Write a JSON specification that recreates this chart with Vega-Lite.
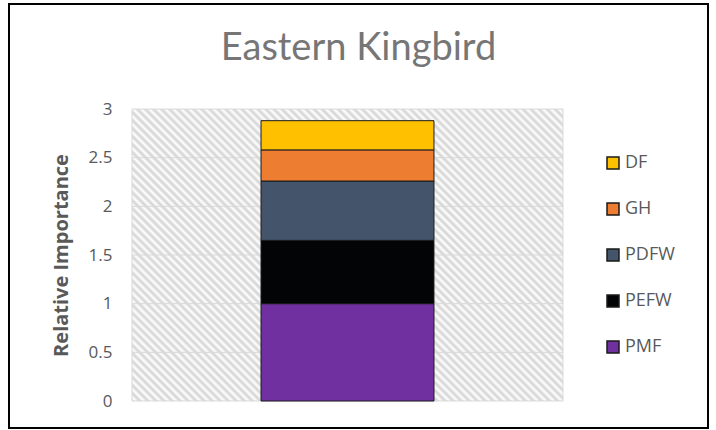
{
  "$schema": "https://vega.github.io/schema/vega-lite/v6.json",
  "autosize": {"type": "none"},
  "width": 699,
  "height": 424,
  "padding": {"left": 9, "top": 4, "right": 8, "bottom": 2},
  "background": "#ffffff",
  "config": {
    "view": {"stroke": "#000000", "strokeWidth": 2, "fill": "#ffffff"},
    "font": "Open Sans",
    "axisY": {
      "offset": -123,
      "domain": false,
      "ticks": false,
      "grid": false,
      "labelFont": "Open Sans",
      "labelFontSize": 17,
      "labelColor": "#595959",
      "labelPadding": 20,
      "titleFont": "Open Sans",
      "titleFontSize": 20,
      "titleFontWeight": "bold",
      "titleColor": "#595959",
      "titlePadding": 17
    }
  },
  "title": {
    "text": "Eastern Kingbird",
    "font": "Lato",
    "fontSize": 38,
    "fontWeight": "normal",
    "color": "#767676",
    "anchor": "middle",
    "frame": "group",
    "baseline": "alphabetic",
    "offset": -94
  },
  "layer": [
    {
      "data": {"values": [{}]},
      "mark": {
        "type": "rect",
        "stroke": "#d9d9d9",
        "strokeWidth": 1,
        "fill": {
          "gradient": "linear",
          "x1": 0, "y1": 1, "x2": 1.1497, "y2": 0.2211,
          "stops": [
            {"offset": 0, "color": "#d3d3d3"},{"offset": 0.0056, "color": "#ffffff"},{"offset": 0.0111, "color": "#d3d3d3"},{"offset": 0.0167, "color": "#ffffff"},{"offset": 0.0222, "color": "#d3d3d3"},{"offset": 0.0278, "color": "#ffffff"},{"offset": 0.0333, "color": "#d3d3d3"},{"offset": 0.0389, "color": "#ffffff"},{"offset": 0.0444, "color": "#d3d3d3"},{"offset": 0.05, "color": "#ffffff"},{"offset": 0.0556, "color": "#d3d3d3"},{"offset": 0.0611, "color": "#ffffff"},{"offset": 0.0667, "color": "#d3d3d3"},{"offset": 0.0722, "color": "#ffffff"},{"offset": 0.0778, "color": "#d3d3d3"},{"offset": 0.0833, "color": "#ffffff"},{"offset": 0.0889, "color": "#d3d3d3"},{"offset": 0.0944, "color": "#ffffff"},
            {"offset": 0.1, "color": "#d3d3d3"},{"offset": 0.1056, "color": "#ffffff"},{"offset": 0.1111, "color": "#d3d3d3"},{"offset": 0.1167, "color": "#ffffff"},{"offset": 0.1222, "color": "#d3d3d3"},{"offset": 0.1278, "color": "#ffffff"},{"offset": 0.1333, "color": "#d3d3d3"},{"offset": 0.1389, "color": "#ffffff"},{"offset": 0.1444, "color": "#d3d3d3"},{"offset": 0.15, "color": "#ffffff"},{"offset": 0.1556, "color": "#d3d3d3"},{"offset": 0.1611, "color": "#ffffff"},{"offset": 0.1667, "color": "#d3d3d3"},{"offset": 0.1722, "color": "#ffffff"},{"offset": 0.1778, "color": "#d3d3d3"},{"offset": 0.1833, "color": "#ffffff"},{"offset": 0.1889, "color": "#d3d3d3"},{"offset": 0.1944, "color": "#ffffff"},
            {"offset": 0.2, "color": "#d3d3d3"},{"offset": 0.2056, "color": "#ffffff"},{"offset": 0.2111, "color": "#d3d3d3"},{"offset": 0.2167, "color": "#ffffff"},{"offset": 0.2222, "color": "#d3d3d3"},{"offset": 0.2278, "color": "#ffffff"},{"offset": 0.2333, "color": "#d3d3d3"},{"offset": 0.2389, "color": "#ffffff"},{"offset": 0.2444, "color": "#d3d3d3"},{"offset": 0.25, "color": "#ffffff"},{"offset": 0.2556, "color": "#d3d3d3"},{"offset": 0.2611, "color": "#ffffff"},{"offset": 0.2667, "color": "#d3d3d3"},{"offset": 0.2722, "color": "#ffffff"},{"offset": 0.2778, "color": "#d3d3d3"},{"offset": 0.2833, "color": "#ffffff"},{"offset": 0.2889, "color": "#d3d3d3"},{"offset": 0.2944, "color": "#ffffff"},
            {"offset": 0.3, "color": "#d3d3d3"},{"offset": 0.3056, "color": "#ffffff"},{"offset": 0.3111, "color": "#d3d3d3"},{"offset": 0.3167, "color": "#ffffff"},{"offset": 0.3222, "color": "#d3d3d3"},{"offset": 0.3278, "color": "#ffffff"},{"offset": 0.3333, "color": "#d3d3d3"},{"offset": 0.3389, "color": "#ffffff"},{"offset": 0.3444, "color": "#d3d3d3"},{"offset": 0.35, "color": "#ffffff"},{"offset": 0.3556, "color": "#d3d3d3"},{"offset": 0.3611, "color": "#ffffff"},{"offset": 0.3667, "color": "#d3d3d3"},{"offset": 0.3722, "color": "#ffffff"},{"offset": 0.3778, "color": "#d3d3d3"},{"offset": 0.3833, "color": "#ffffff"},{"offset": 0.3889, "color": "#d3d3d3"},{"offset": 0.3944, "color": "#ffffff"},
            {"offset": 0.4, "color": "#d3d3d3"},{"offset": 0.4056, "color": "#ffffff"},{"offset": 0.4111, "color": "#d3d3d3"},{"offset": 0.4167, "color": "#ffffff"},{"offset": 0.4222, "color": "#d3d3d3"},{"offset": 0.4278, "color": "#ffffff"},{"offset": 0.4333, "color": "#d3d3d3"},{"offset": 0.4389, "color": "#ffffff"},{"offset": 0.4444, "color": "#d3d3d3"},{"offset": 0.45, "color": "#ffffff"},{"offset": 0.4556, "color": "#d3d3d3"},{"offset": 0.4611, "color": "#ffffff"},{"offset": 0.4667, "color": "#d3d3d3"},{"offset": 0.4722, "color": "#ffffff"},{"offset": 0.4778, "color": "#d3d3d3"},{"offset": 0.4833, "color": "#ffffff"},{"offset": 0.4889, "color": "#d3d3d3"},{"offset": 0.4944, "color": "#ffffff"},
            {"offset": 0.5, "color": "#d3d3d3"},{"offset": 0.5056, "color": "#ffffff"},{"offset": 0.5111, "color": "#d3d3d3"},{"offset": 0.5167, "color": "#ffffff"},{"offset": 0.5222, "color": "#d3d3d3"},{"offset": 0.5278, "color": "#ffffff"},{"offset": 0.5333, "color": "#d3d3d3"},{"offset": 0.5389, "color": "#ffffff"},{"offset": 0.5444, "color": "#d3d3d3"},{"offset": 0.55, "color": "#ffffff"},{"offset": 0.5556, "color": "#d3d3d3"},{"offset": 0.5611, "color": "#ffffff"},{"offset": 0.5667, "color": "#d3d3d3"},{"offset": 0.5722, "color": "#ffffff"},{"offset": 0.5778, "color": "#d3d3d3"},{"offset": 0.5833, "color": "#ffffff"},{"offset": 0.5889, "color": "#d3d3d3"},{"offset": 0.5944, "color": "#ffffff"},
            {"offset": 0.6, "color": "#d3d3d3"},{"offset": 0.6056, "color": "#ffffff"},{"offset": 0.6111, "color": "#d3d3d3"},{"offset": 0.6167, "color": "#ffffff"},{"offset": 0.6222, "color": "#d3d3d3"},{"offset": 0.6278, "color": "#ffffff"},{"offset": 0.6333, "color": "#d3d3d3"},{"offset": 0.6389, "color": "#ffffff"},{"offset": 0.6444, "color": "#d3d3d3"},{"offset": 0.65, "color": "#ffffff"},{"offset": 0.6556, "color": "#d3d3d3"},{"offset": 0.6611, "color": "#ffffff"},{"offset": 0.6667, "color": "#d3d3d3"},{"offset": 0.6722, "color": "#ffffff"},{"offset": 0.6778, "color": "#d3d3d3"},{"offset": 0.6833, "color": "#ffffff"},{"offset": 0.6889, "color": "#d3d3d3"},{"offset": 0.6944, "color": "#ffffff"},
            {"offset": 0.7, "color": "#d3d3d3"},{"offset": 0.7056, "color": "#ffffff"},{"offset": 0.7111, "color": "#d3d3d3"},{"offset": 0.7167, "color": "#ffffff"},{"offset": 0.7222, "color": "#d3d3d3"},{"offset": 0.7278, "color": "#ffffff"},{"offset": 0.7333, "color": "#d3d3d3"},{"offset": 0.7389, "color": "#ffffff"},{"offset": 0.7444, "color": "#d3d3d3"},{"offset": 0.75, "color": "#ffffff"},{"offset": 0.7556, "color": "#d3d3d3"},{"offset": 0.7611, "color": "#ffffff"},{"offset": 0.7667, "color": "#d3d3d3"},{"offset": 0.7722, "color": "#ffffff"},{"offset": 0.7778, "color": "#d3d3d3"},{"offset": 0.7833, "color": "#ffffff"},{"offset": 0.7889, "color": "#d3d3d3"},{"offset": 0.7944, "color": "#ffffff"},
            {"offset": 0.8, "color": "#d3d3d3"},{"offset": 0.8056, "color": "#ffffff"},{"offset": 0.8111, "color": "#d3d3d3"},{"offset": 0.8167, "color": "#ffffff"},{"offset": 0.8222, "color": "#d3d3d3"},{"offset": 0.8278, "color": "#ffffff"},{"offset": 0.8333, "color": "#d3d3d3"},{"offset": 0.8389, "color": "#ffffff"},{"offset": 0.8444, "color": "#d3d3d3"},{"offset": 0.85, "color": "#ffffff"},{"offset": 0.8556, "color": "#d3d3d3"},{"offset": 0.8611, "color": "#ffffff"},{"offset": 0.8667, "color": "#d3d3d3"},{"offset": 0.8722, "color": "#ffffff"},{"offset": 0.8778, "color": "#d3d3d3"},{"offset": 0.8833, "color": "#ffffff"},{"offset": 0.8889, "color": "#d3d3d3"},{"offset": 0.8944, "color": "#ffffff"},
            {"offset": 0.9, "color": "#d3d3d3"},{"offset": 0.9056, "color": "#ffffff"},{"offset": 0.9111, "color": "#d3d3d3"},{"offset": 0.9167, "color": "#ffffff"},{"offset": 0.9222, "color": "#d3d3d3"},{"offset": 0.9278, "color": "#ffffff"},{"offset": 0.9333, "color": "#d3d3d3"},{"offset": 0.9389, "color": "#ffffff"},{"offset": 0.9444, "color": "#d3d3d3"},{"offset": 0.95, "color": "#ffffff"},{"offset": 0.9556, "color": "#d3d3d3"},{"offset": 0.9611, "color": "#ffffff"},{"offset": 0.9667, "color": "#d3d3d3"},{"offset": 0.9722, "color": "#ffffff"},{"offset": 0.9778, "color": "#d3d3d3"},{"offset": 0.9833, "color": "#ffffff"},{"offset": 0.9889, "color": "#d3d3d3"},{"offset": 0.9944, "color": "#ffffff"},
            {"offset": 1, "color": "#d3d3d3"}
          ]
        }
      },
      "encoding": {
        "x": {"datum": 0, "type": "quantitative", "scale": {"domain": [0, 1], "range": [123, 554]}, "axis": null},
        "x2": {"datum": 1},
        "y": {"datum": 0, "type": "quantitative", "scale": {"domain": [0, 3], "range": [397, 105], "nice": false}},
        "y2": {"datum": 3}
      }
    },
    {
      "data": {"values": [{"v": 0.5}, {"v": 1}, {"v": 1.5}, {"v": 2}, {"v": 2.5}]},
      "mark": {"type": "rule", "color": "#d9d9d9", "strokeWidth": 1},
      "encoding": {
        "x": {"datum": 0, "type": "quantitative", "scale": {"domain": [0, 1], "range": [123, 554]}, "axis": null},
        "x2": {"datum": 1},
        "y": {"field": "v", "type": "quantitative", "scale": {"domain": [0, 3], "range": [397, 105], "nice": false}}
      }
    },
    {
      "data": {
        "values": [
          {"species": "Eastern Kingbird", "factor": "PMF", "importance": 1.0},
          {"species": "Eastern Kingbird", "factor": "PEFW", "importance": 0.65},
          {"species": "Eastern Kingbird", "factor": "PDFW", "importance": 0.61},
          {"species": "Eastern Kingbird", "factor": "GH", "importance": 0.32},
          {"species": "Eastern Kingbird", "factor": "DF", "importance": 0.30}
        ]
      },
      "mark": {"type": "bar", "stroke": "#1a1a1a", "strokeWidth": 1},
      "encoding": {
        "x": {"field": "species", "type": "nominal", "scale": {"range": [123, 554], "paddingInner": 0, "paddingOuter": 0.746}, "axis": null},
        "y": {
          "field": "importance",
          "type": "quantitative",
          "stack": "zero",
          "scale": {"domain": [0, 3], "range": [397, 105], "nice": false},
          "axis": {"title": "Relative Importance", "values": [0, 0.5, 1, 1.5, 2, 2.5, 3], "format": "~g"}
        },
        "color": {
          "field": "factor",
          "type": "nominal",
          "sort": ["DF", "GH", "PDFW", "PEFW", "PMF"],
          "scale": {"domain": ["DF", "GH", "PDFW", "PEFW", "PMF"], "range": ["#ffc000", "#ed7d31", "#44546a", "#020406", "#7030a0"]},
          "legend": {
            "orient": "none",
            "legendX": 595,
            "legendY": 150,
            "title": null,
            "padding": 0,
            "symbolType": "square",
            "symbolSize": 144,
            "symbolStrokeColor": "#1a1a1a",
            "symbolStrokeWidth": 1.5,
            "labelFont": "Open Sans",
            "labelFontSize": 18,
            "labelColor": "#595959",
            "labelOffset": 3,
            "rowPadding": 28
          }
        },
        "order": {"field": "factor", "sort": "descending"}
      }
    }
  ],
  "resolve": {"scale": {"x": "independent"}}
}
